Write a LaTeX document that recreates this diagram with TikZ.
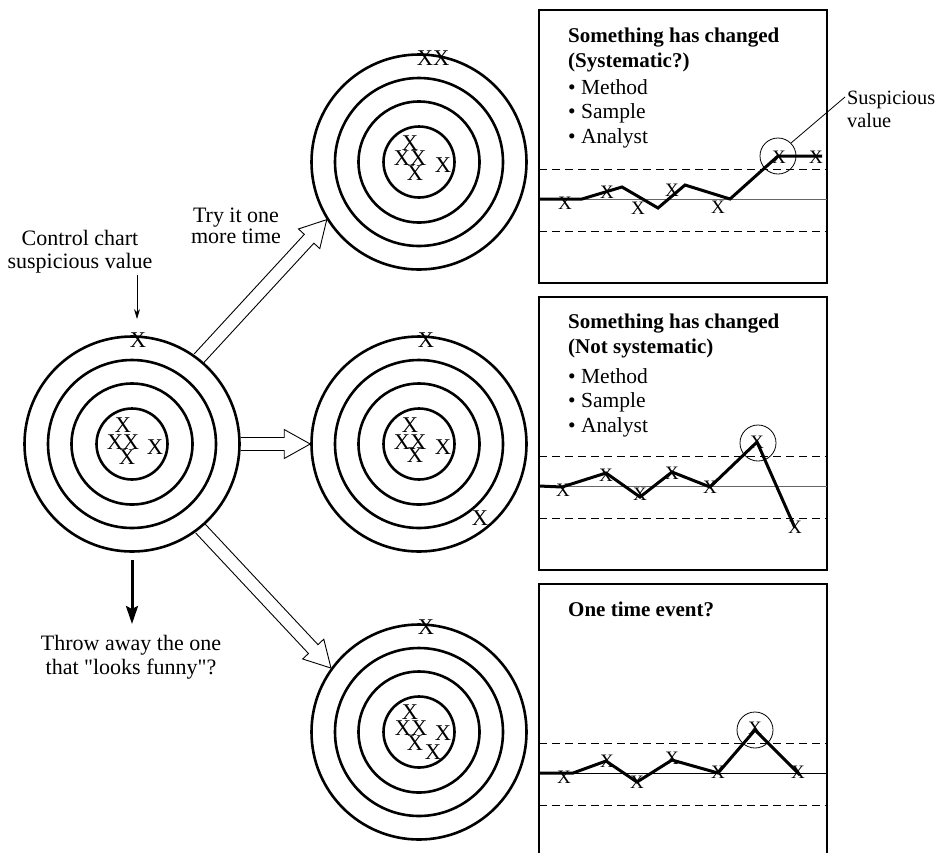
\documentclass[tikz,border=0pt]{standalone}
\usepackage{fontspec}
\setmainfont{Liberation Serif}
\newfontfamily\straightq[Ligatures=TeXOff]{Liberation Serif}
\usetikzlibrary{calc,arrows.meta}

\tikzset{
  txt/.style={inner sep=0pt, anchor=base, font=\fontsize{22}{24}\selectfont},
  ptxt/.style={inner sep=0pt, anchor=base west, font=\fontsize{21.5}{25}\selectfont},
  phead/.style={inner sep=0pt, anchor=base west, font=\fontsize{21}{25}\selectfont\bfseries},
  mk/.style={inner sep=0pt, font=\fontsize{22.5}{22.5}\selectfont},
  pmk/.style={inner sep=0pt, font=\fontsize{19}{19}\selectfont},
  ring/.style={draw, line width=2.6pt},
  outerring/.style={ring, circle, inner sep=0pt, minimum size=215pt},
  hollow/.style={line width=0.9pt, line join=miter},
  panel/.style={line width=1.8pt},
  limit/.style={line width=0.9pt, dash pattern=on 8pt off 5pt},
  centre/.style={line width=0.9pt, black!60},
  trace/.style={line width=3pt, line join=miter},
  flag/.style={line width=0.8pt},
}

% target: three inner rings around the named outer ring
\newcommand{\innerrings}[1]{%
  \draw[ring] (#1.center) circle[radius=35.5pt];
  \draw[ring] (#1.center) circle[radius=60.5pt];
  \draw[ring] (#1.center) circle[radius=84pt];
}

% broad outlined arrow from #1 to #2
\newcommand{\hollowarrow}[2]{%
  \coordinate (hb) at ($(#2)!26pt!(#1)$);
  \draw[hollow] ($(#1)!6.5pt!90:(#2)$) -- ($(hb)!6.5pt!90:(#2)$)
    -- ($(hb)!14.5pt!90:(#2)$) -- (#2) -- ($(hb)!14.5pt!-90:(#2)$)
    -- ($(hb)!6.5pt!-90:(#2)$) -- ($(#1)!6.5pt!-90:(#2)$);
}

\begin{document}
\begin{tikzpicture}[x=1pt, y=-1pt]
\useasboundingbox (0,0) rectangle (939,852);

% ---------- targets ----------
\node[outerring] (L) at (132,444) {};
\innerrings{L}
\node[outerring] (T) at (419,162) {};
\innerrings{T}
\node[outerring] (M) at (419,444) {};
\innerrings{M}
\node[outerring] (B) at (419,732) {};
\innerrings{B}

% hits on the left target
\node[mk] (l0) at (138,340) {X};
\node[mk] (l1) at (123,425) {X};
\node[mk] (l2) at (123,442) {XX};
\node[mk] (l3) at (127,457) {X};
\node[mk] (l4) at (155,447) {X};

% hits on the upper target
\node[mk] (t0) at (433,58) {XX};
\node[mk] (t1) at (410,143) {X};
\node[mk] (t2) at (410,158) {XX};
\node[mk] (t3) at (415,173) {X};
\node[mk] (t4) at (443,165) {X};

% hits on the middle target
\node[mk] (m0) at (426,340) {X};
\node[mk] (m1) at (410,425) {X};
\node[mk] (m2) at (410,442) {XX};
\node[mk] (m3) at (415,455) {X};
\node[mk] (m4) at (443,447) {X};
\node[mk] (m5) at (480,518) {X};

% hits on the lower target
\node[mk] (b0) at (426,627) {X};
\node[mk] (b1) at (410,712) {X};
\node[mk] (b2) at (411,728) {XX};
\node[mk] (b3) at (415,743) {X};
\node[mk] (b4) at (443,733) {X};
\node[mk] (b5) at (433,752) {X};

% ---------- arrows between targets ----------
\hollowarrow{L.52.6}{T.212.8}
\hollowarrow{L.0}{M.180}
\hollowarrow{L.-51.8}{B.144.4}

% ---------- labels on the left ----------
\node[txt] (cc1) at (80,245) {Control chart};
\node[txt] (cc2) at (80,268) {suspicious value};
\coordinate (ccs) at (137,275);
\coordinate (cce) at (137,319);
\draw[line width=0.8pt, -{Stealth[length=10pt,width=6pt]}] (ccs) -- (cce);

\node[txt] (try1) at (236,222) {Try it one};
\node[txt] (try2) at (236,243) {more time};

\coordinate (ths) at (132,560);
\coordinate (the) at (132,624);
\draw[line width=3pt, -{Stealth[length=18pt,width=12pt,inset=3pt]}] (ths) -- (the);
\node[txt] (th1) at (131,650) {Throw away the one};
\node[txt] (th2) at (131,674) {that {\straightq"}looks funny{\straightq"}?};

% ---------- panel 1 ----------
\draw[panel] (539,10) rectangle (827,283);
\node[phead] (p1h1) at (568,42) {Something has changed};
\node[phead] (p1h2) at (568,67) {(Systematic?)};
\node[ptxt] (p1a) at (568,94) {• Method};
\node[ptxt] (p1b) at (568,118.5) {• Sample};
\node[ptxt] (p1c) at (568,143) {• Analyst};
\draw[limit] (539,169) -- (827,169);
\draw[centre] (539,199) -- (827,199);
\draw[limit] (539,231) -- (827,231);
\node[pmk] (p1x1) at (565,203) {X};
\node[pmk] (p1x2) at (607,192) {X};
\node[pmk] (p1x3) at (638,208) {X};
\node[pmk] (p1x4) at (672,190) {X};
\node[pmk] (p1x5) at (718,207) {X};
\node[pmk] (p1x6) at (779,157) {X};
\node[pmk] (p1x7) at (816,157) {X};
\draw[trace] (539,199) -- (582,199) -- (622,187) -- (658,208) -- (685,185)
  -- (730,199) -- (778,156) -- (822,156);
\node[draw, flag, circle, inner sep=0pt, minimum size=36pt] (c1) at (778,156) {};
\node[ptxt, font=\fontsize{20.3}{24}\selectfont] (sus1) at (847,104) {Suspicious};
\node[ptxt, font=\fontsize{20.3}{24}\selectfont] (sus2) at (847,127) {value};
\coordinate (sust) at (845,97);
\draw[flag] (c1.45) -- (sust);

% ---------- panel 2 ----------
\draw[panel] (539,297) rectangle (827,570);
\node[phead] (p2h1) at (568,328) {Something has changed};
\node[phead] (p2h2) at (568,353) {(Not systematic)};
\node[ptxt] (p2a) at (568,383) {• Method};
\node[ptxt] (p2b) at (568,407) {• Sample};
\node[ptxt] (p2c) at (568,432) {• Analyst};
\draw[limit] (539,456) -- (827,456);
\draw[centre] (539,486) -- (827,486);
\draw[limit] (539,518) -- (827,518);
\node[pmk] (p2x1) at (563,490) {X};
\node[pmk] (p2x2) at (606,475) {X};
\node[pmk] (p2x3) at (640,494) {X};
\node[pmk] (p2x4) at (672,473) {X};
\node[pmk] (p2x5) at (710,487) {X};
\node[pmk] (p2x6) at (757,442) {X};
\node[pmk] (p2x7) at (795,527) {X};
\draw[trace] (539,486) -- (562,487) -- (606,473) -- (640,497) -- (672,472)
  -- (710,487) -- (757,442) -- (795,528);
\node[draw, flag, circle, inner sep=0pt, minimum size=36pt] (c2) at (758,443) {};

% ---------- panel 3 (runs off the lower edge) ----------
\draw[panel] (539,853) -- (539,584) -- (827,584) -- (827,853);
\node[phead] (p3h1) at (568,616) {One time event?};
\draw[limit] (539,743) -- (827,743);
\draw[line width=0.9pt] (539,773) -- (827,773);
\draw[limit] (539,805) -- (827,805);
\node[pmk] (p3x1) at (564,777) {X};
\node[pmk] (p3x2) at (607,761) {X};
\node[pmk] (p3x3) at (637,782) {X};
\node[pmk] (p3x4) at (672,758) {X};
\node[pmk] (p3x5) at (718,772) {X};
\node[pmk] (p3x6) at (755,728) {X};
\node[pmk] (p3x7) at (798,772) {X};
\draw[trace] (539,773) -- (573,773) -- (606,761) -- (637,782) -- (672,760)
  -- (718,773) -- (755,730) -- (800,775);
\node[draw, flag, circle, inner sep=0pt, minimum size=36pt] (c3) at (755,730) {};
\end{tikzpicture}
\end{document}
